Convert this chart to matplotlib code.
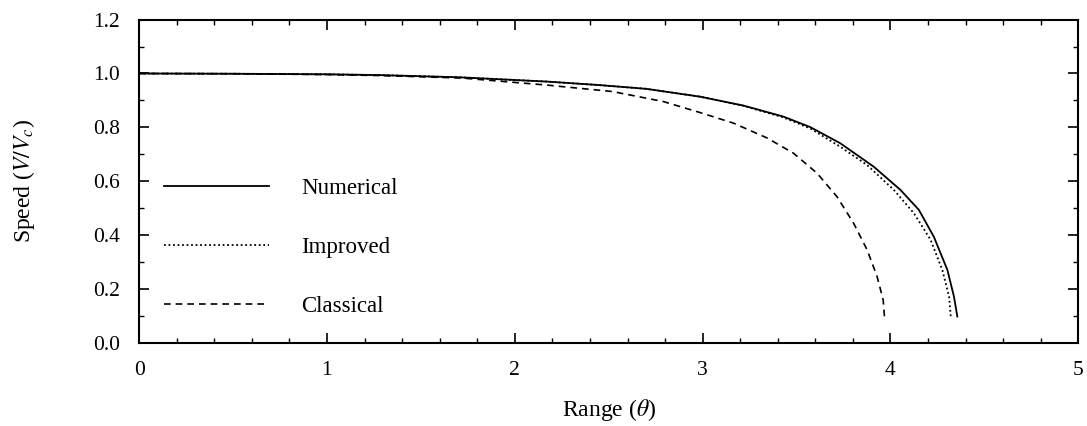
import matplotlib
matplotlib.use('Agg')
import matplotlib.pyplot as plt
from matplotlib.ticker import MultipleLocator, FormatStrFormatter

plt.rcParams['font.family'] = 'Liberation Serif'
plt.rcParams['mathtext.fontset'] = 'stix'

# values
num_x = [0.0, 0.5, 1.0, 1.28, 1.7, 2.17, 2.45, 2.7, 2.986, 3.217, 3.43, 3.573, 3.733, 3.911, 4.053,
         4.151, 4.231, 4.303, 4.338, 4.356]
num_y = [1.0, 0.999, 0.997, 0.994, 0.986, 0.970, 0.957, 0.943, 0.914, 0.881, 0.840, 0.801, 0.741, 0.654, 0.568,
         0.494, 0.394, 0.271, 0.172, 0.098]

imp_x = [0.0, 0.5, 1.0, 1.28, 1.7, 2.17, 2.45, 2.7, 2.986, 3.217, 3.43, 3.573, 3.733, 3.876, 4.018,
         4.125, 4.214, 4.276, 4.312, 4.321]
imp_y = [1.0, 0.999, 0.997, 0.994, 0.986, 0.970, 0.957, 0.943, 0.914, 0.880, 0.837, 0.796, 0.728, 0.660, 0.568,
         0.481, 0.382, 0.271, 0.172, 0.098]

cla_x = [0.0, 0.5, 1.0, 1.3, 1.72, 2.17, 2.52, 2.79, 2.986, 3.163, 3.342, 3.484, 3.609, 3.715, 3.804,
         3.876, 3.929, 3.961, 3.968]
cla_y = [1.0, 0.999, 0.996, 0.992, 0.983, 0.957, 0.933, 0.896, 0.855, 0.816, 0.761, 0.704, 0.630, 0.543, 0.444,
         0.345, 0.246, 0.160, 0.098]

labels = ['Numerical', 'Improved', 'Classical']

fig = plt.figure(figsize=(10.87, 4.26), dpi=100)
ax = fig.add_axes([0.128, 0.195, 0.864, 0.759])

l1, = ax.plot(num_x, num_y, color='black', lw=1.3, ls='-')
l2, = ax.plot(imp_x, imp_y, color='black', lw=1.3, ls=(0, (1, 1.5)))
l3, = ax.plot(cla_x, cla_y, color='black', lw=1.2, ls=(0, (4, 3)))

ax.set_xlim(0, 5)
ax.set_ylim(0, 1.2)
ax.xaxis.set_major_locator(MultipleLocator(1))
ax.xaxis.set_minor_locator(MultipleLocator(0.2))
ax.yaxis.set_major_locator(MultipleLocator(0.2))
ax.yaxis.set_minor_locator(MultipleLocator(0.1))
ax.yaxis.set_major_formatter(FormatStrFormatter('%.1f'))
ax.tick_params(which='both', direction='in', top=True, right=True, labelsize=15.5)
ax.tick_params(which='major', length=7, width=1.2)
ax.tick_params(which='minor', length=3.5, width=1.0)
ax.tick_params(axis='y', which='major', pad=14)
ax.tick_params(axis='x', which='major', pad=13)
for s in ax.spines.values():
    s.set_linewidth(1.5)

ax.set_xlabel(r'Range ($\theta$)', fontsize=17, labelpad=12)
ax.set_ylabel(r'Speed ($V/V_c$)', fontsize=17, labelpad=40)

ax.legend([l1, l2, l3], labels, loc='center left', bbox_to_anchor=(0.027, 0.294),
          frameon=False, fontsize=16.5, handlelength=4.54, handletextpad=1.43,
          labelspacing=1.66, borderpad=0, borderaxespad=0)

fig.savefig('out.png', dpi=100)
